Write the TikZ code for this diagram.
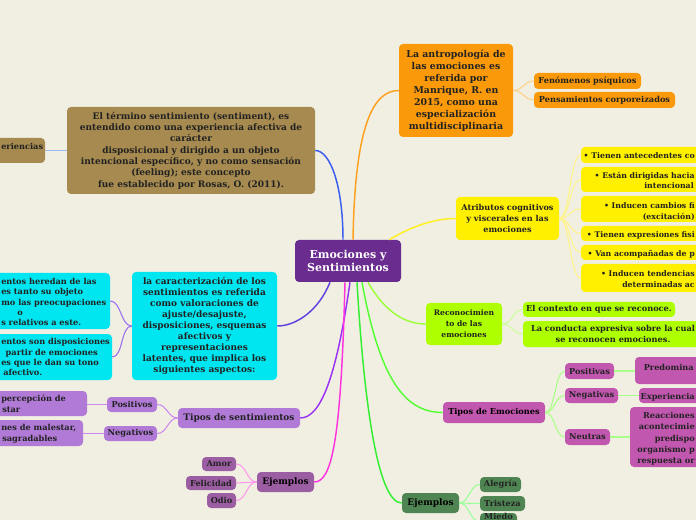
\documentclass[tikz,border=0pt]{standalone}
\usepackage{fontspec}
\setmainfont{DejaVu Serif}
\definecolor{bgc}{HTML}{F1EFE2}
\definecolor{ink}{HTML}{222222}
\definecolor{cRoot}{HTML}{6A2C8F}
\definecolor{cBrown}{HTML}{A68A4F}
\definecolor{cOrange}{HTML}{FA9A0A}
\definecolor{cYellow}{HTML}{FFF000}
\definecolor{cLime}{HTML}{AEFF00}
\definecolor{cMag}{HTML}{C257B0}
\definecolor{cDGreen}{HTML}{4F8553}
\definecolor{cCyan}{HTML}{00E6F0}
\definecolor{cLilac}{HTML}{B07AD6}
\definecolor{cPurp}{HTML}{9C5EA3}
\definecolor{eBlue}{HTML}{3A5CF0}
\definecolor{eBlueL}{HTML}{9DB9F2}
\definecolor{eOrange}{HTML}{FFA020}
\definecolor{eOrangeL}{HTML}{FFD08A}
\definecolor{eYellow}{HTML}{FFF020}
\definecolor{eYellowL}{HTML}{FFF38A}
\definecolor{eLime}{HTML}{9CFF3A}
\definecolor{eLimeL}{HTML}{CCFF99}
\definecolor{eGreen}{HTML}{55FF33}
\definecolor{eGreenL}{HTML}{AAFF88}
\definecolor{eGreenB}{HTML}{33EE33}
\definecolor{eGreenBL}{HTML}{99FF99}
\definecolor{eViolet}{HTML}{6440E0}
\definecolor{eVioletL}{HTML}{9A70EE}
\definecolor{ePurple}{HTML}{9A33F5}
\definecolor{ePurpleL}{HTML}{CC88EE}
\definecolor{eMag}{HTML}{FF33E0}
\definecolor{eMagL}{HTML}{FF99EE}
% name, x1, y1, x2, y2, style, text
\newcommand\mmbox[7]{%
  \node[#6, minimum width={(#4-#2)*0.75pt}, minimum height={(#5-#3)*0.75pt}]
    (#1) at ({(#2+#4)/2},{(#3+#5)/2}) {#7};}
\begin{document}
\begin{tikzpicture}[x=0.75pt,y=-0.75pt,
  box/.style={rounded corners=3pt, inner sep=0pt, align=center, text=ink},
  fRoot/.style={font=\fontsize{8.25}{9.75}\selectfont\bfseries},
  fM/.style={font=\fontsize{6.75}{8.5}\selectfont\bfseries},
  fO/.style={font=\fontsize{7.05}{9}\selectfont\bfseries},
  fY/.style={font=\fontsize{6.1}{7.9}\selectfont\bfseries},
  fS/.style={font=\fontsize{6.15}{7.9}\selectfont\bfseries},
  fYc/.style={font=\fontsize{5.85}{7.9}\selectfont\bfseries},
  fG/.style={font=\fontsize{5.7}{8.25}\selectfont\bfseries},
  fC/.style={font=\fontsize{6.75}{8.2}\selectfont\bfseries},
  cut/.style={inner sep=0pt, text height=0.72em, text depth=0.2em, text=ink},
  rcut/.style={cut,fS,anchor=east},
  ycut/.style={cut,fYc,anchor=east},
  lcut/.style={cut,fS,anchor=west},
  main/.style={line width=1.1pt},
  sub/.style={line width=0.8pt}]
\useasboundingbox (0,0) rectangle (696,520);
\fill[bgc] (0,0) rectangle (696,520);
\clip (0,0) rectangle (696,520);

% ---------- root
\mmbox{C}{295}{240}{401}{282}{box,fill=cRoot,text=white,fRoot}{Emociones y\\Sentimientos}

% ---------- brown
\mmbox{B}{67}{107}{315}{194}{box,fill=cBrown,fM}{El término sentimiento (sentiment), es\\entendido como una experiencia afectiva de\\carácter\\disposicional y dirigido a un objeto\\intencional específico, y no como sensación\\(feeling); este concepto\\fue establecido por Rosas, O. (2011).}
\mmbox{BL}{-40}{138}{45}{163}{box,fill=cBrown}{}
\node[lcut] (BLt) at (1,146) {eriencias};

% ---------- orange
\mmbox{O}{399}{44}{513}{137}{box,fill=cOrange,fO}{La antropología de\\las emociones es\\referida por\\Manrique, R. en\\2015, como una\\especialización\\multidisciplinaria}
\mmbox{O1}{534}{73}{641}{89}{box,fill=cOrange,fS}{Fenómenos psíquicos}
\mmbox{O2}{534}{92}{675}{108}{box,fill=cOrange,fS}{Pensamientos corporeizados}

% ---------- yellow
\mmbox{Y}{456}{197}{559}{240}{box,fill=cYellow,fY}{Atributos cognitivos\\y viscerales en las\\emociones}
\mmbox{Y1}{581}{147}{740}{163}{box,fill=cYellow}{}
\mmbox{Y2}{581}{167}{740}{192}{box,fill=cYellow}{}
\mmbox{Y3}{581}{196}{740}{222}{box,fill=cYellow}{}
\mmbox{Y4}{581}{226}{740}{241}{box,fill=cYellow}{}
\mmbox{Y5}{581}{245}{740}{260}{box,fill=cYellow}{}
\mmbox{Y6}{581}{264}{740}{292}{box,fill=cYellow}{}
\node[ycut] (Y1t) at (695,155) {• Tienen antecedentes co};
\node[ycut] (Y2t) at (695,175) {• Están dirigidas hacia};
\node[ycut] (Y2u) at (694,185) {intencional};
\node[ycut] (Y3t) at (695,205) {• Inducen cambios fi};
\node[ycut] (Y3u) at (695,216) {(excitación)};
\node[ycut] (Y4t) at (695,234) {• Tienen expresiones fisi};
\node[ycut] (Y5t) at (695,253) {• Van acompañadas de p};
\node[ycut] (Y6t) at (695,273) {• Inducen tendencias};
\node[ycut] (Y6u) at (695,284) {determinadas ac};

% ---------- lime
\mmbox{G}{426}{303}{502}{345}{box,fill=cLime,fG}{Reconocimien\\to de las\\emociones}
\mmbox{G1}{523}{302}{675}{317}{box,fill=cLime,fS}{El contexto en que se reconoce.}
\mmbox{G2}{523}{321}{703}{347}{box,fill=cLime,fS}{La conducta expresiva sobre la cual\\se reconocen emociones.}

% ---------- magenta (Tipos de Emociones)
\mmbox{TE}{443}{402}{545}{423}{box,fill=cMag,fS,text=black}{Tipos de Emociones}
\mmbox{TE1}{565}{363}{614}{379}{box,fill=cMag,fS}{Positivas}
\mmbox{TE2}{565}{388}{618}{403}{box,fill=cMag,fS}{Negativas}
\mmbox{TE3}{565}{429}{610}{445}{box,fill=cMag,fS}{Neutras}
\mmbox{TEa}{635}{357}{740}{384}{box,fill=cMag}{}
\mmbox{TEb}{639}{388}{740}{403}{box,fill=cMag}{}
\mmbox{TEc}{630}{407}{740}{467}{box,fill=cMag}{}
\node[rcut] (TEat) at (694,367) {Predomina};
\node[rcut] (TEbt) at (695,396) {Experiencia};
\node[rcut] (TEct1) at (695,415) {Reacciones};
\node[rcut] (TEct2) at (695,426) {acontecimie};
\node[rcut] (TEct3) at (695,438) {predispo};
\node[rcut] (TEct4) at (695,449) {organismo p};
\node[rcut] (TEct5) at (695,460) {respuesta or};

% ---------- dark green (Ejemplos)
\mmbox{EG}{402}{493}{459}{513}{box,fill=cDGreen,fM,text=black}{Ejemplos}
\mmbox{EG1}{480}{477}{521}{492}{box,fill=cDGreen,fS}{Alegría}
\mmbox{EG2}{480}{496}{525}{511}{box,fill=cDGreen,fS}{Tristeza}
\mmbox{EG3}{480}{513}{517}{530}{box,fill=cDGreen}{}
\node[inner sep=0pt,fS,text=ink,anchor=base] (EG3t) at (498.5,519.2) {Miedo};

% ---------- cyan
\mmbox{CY}{132}{272}{277}{380}{box,fill=cCyan,fC}{la caracterización de los\\sentimientos es referida\\como valoraciones de\\ajuste/desajuste,\\disposiciones, esquemas\\afectivos y\\representaciones\\latentes, que implica los\\siguientes aspectos:}
\mmbox{CY1}{-70}{273}{110}{329}{box,fill=cCyan}{}
\mmbox{CY2}{-70}{334}{112}{380}{box,fill=cCyan}{}
\node[lcut] (CY1a) at (1,281) {entos heredan de las};
\node[lcut] (CY1b) at (1,291) {es tanto su objeto};
\node[lcut] (CY1c) at (1,302) {mo las preocupaciones};
\node[cut,fS] (CY1d) at (20,312) {o};
\node[lcut] (CY1e) at (1,322) {s relativos a este.};
\node[lcut] (CY2a) at (1,341) {entos son disposiciones};
\node[rcut] (CY2b) at (98,352) {partir de emociones};
\node[lcut] (CY2c) at (1,362) {es que le dan su tono};
\node[lcut] (CY2d) at (3,372) {afectivo.};

% ---------- lilac (Tipos de sentimientos)
\mmbox{TS}{178}{408}{300}{428}{box,fill=cLilac,fM}{Tipos de sentimientos}
\mmbox{TS1}{107}{397}{157}{412}{box,fill=cLilac,fS}{Positivos}
\mmbox{TS2}{104}{426}{157}{441}{box,fill=cLilac,fS}{Negativos}
\mmbox{TSa}{-40}{391}{87}{416}{box,fill=cLilac}{}
\mmbox{TSb}{-40}{420}{83}{446}{box,fill=cLilac}{}
\node[lcut] (TSat) at (1,398) {percepción de};
\node[lcut] (TSau) at (2,409) {star};
\node[lcut] (TSbt) at (1,427) {nes de malestar,};
\node[lcut] (TSbu) at (2,438) {sagradables};

% ---------- purple (Ejemplos)
\mmbox{EL}{257}{472}{314}{492}{box,fill=cPurp,fM,text=black}{Ejemplos}
\mmbox{EL1}{202}{457}{236}{471}{box,fill=cPurp,fS}{Amor}
\mmbox{EL2}{186}{476}{236}{490}{box,fill=cPurp,fS}{Felicidad}
\mmbox{EL3}{207}{493}{236}{508}{box,fill=cPurp,fS}{Odio}

% ---------- main connectors
\draw[main,eBlue] ([xshift=-3.75pt]C.north) .. controls (343,185) and (330,150.5) .. (B.east);
\draw[main,eOrange] ([xshift=3.75pt]C.north) .. controls (355,120) and (375,90.5) .. (O.west);
\draw[main,eYellow] ([xshift=-9pt]C.north east) .. controls (412,226) and (435,218.5) .. (Y.west);
\draw[main,eLime] ([xshift=15pt]C.south) .. controls (385,312) and (405,324) .. (G.west);
\draw[main,eGreen] ([xshift=10.5pt]C.south) .. controls (380,380) and (405,412.5) .. (TE.west);
\draw[main,eGreenB] ([xshift=6.75pt]C.south) .. controls (365,420) and (380,503) .. (EG.west);
\draw[main,eViolet] ([xshift=-13.5pt]C.south) .. controls (318,312) and (295,326) .. (CY.east);
\draw[main,ePurple] ([xshift=1.5pt]C.south) .. controls (336,380) and (320,418) .. (TS.east);
\draw[main,eMag] ([xshift=-2.25pt]C.south) .. controls (341,440) and (332,482) .. (EL.east);

% ---------- child connectors
\draw[sub,eBlueL] (B.west) -- (BL.east);
\foreach \n in {O1,O2}
  \draw[sub,eOrangeL] (O.east) .. controls +(10,0) and +(-10,0) .. (\n.west);
\foreach \n in {Y1,Y2,Y3,Y4,Y5,Y6}
  \draw[sub,eYellowL] (Y.east) .. controls +(11,0) and +(-11,0) .. (\n.west);
\foreach \n in {G1,G2}
  \draw[sub,eLimeL] (G.east) .. controls +(10,0) and +(-10,0) .. (\n.west);
\foreach \n in {TE1,TE2,TE3}
  \draw[sub,eGreenL] (TE.east) .. controls +(10,0) and +(-10,0) .. (\n.west);
\draw[sub,eGreenL] (TE1.east) -- (TEa.west |- TE1.east);
\draw[sub,eGreenL] (TE2.east) -- (TEb.west);
\draw[sub,eGreenL] (TE3.east) -- (TEc.west |- TE3.east);
\foreach \n in {EG1,EG2,EG3}
  \draw[sub,eGreenBL] (EG.east) .. controls +(10,0) and +(-10,0) .. (\n.west);
\foreach \n in {CY1,CY2}
  \draw[sub,eVioletL] (CY.west) .. controls +(-11,0) and +(11,0) .. (\n.east);
\foreach \n in {TS1,TS2}
  \draw[sub,ePurpleL] (TS.west) .. controls +(-10,0) and +(10,0) .. (\n.east);
\draw[sub,ePurpleL] (TS1.west) -- (TSa.east |- TS1.west);
\draw[sub,ePurpleL] (TS2.west) -- (TSb.east |- TS2.west);
\foreach \n in {EL1,EL2,EL3}
  \draw[sub,eMagL] (EL.west) .. controls +(-10,0) and +(10,0) .. (\n.east);
\end{tikzpicture}
\end{document}
